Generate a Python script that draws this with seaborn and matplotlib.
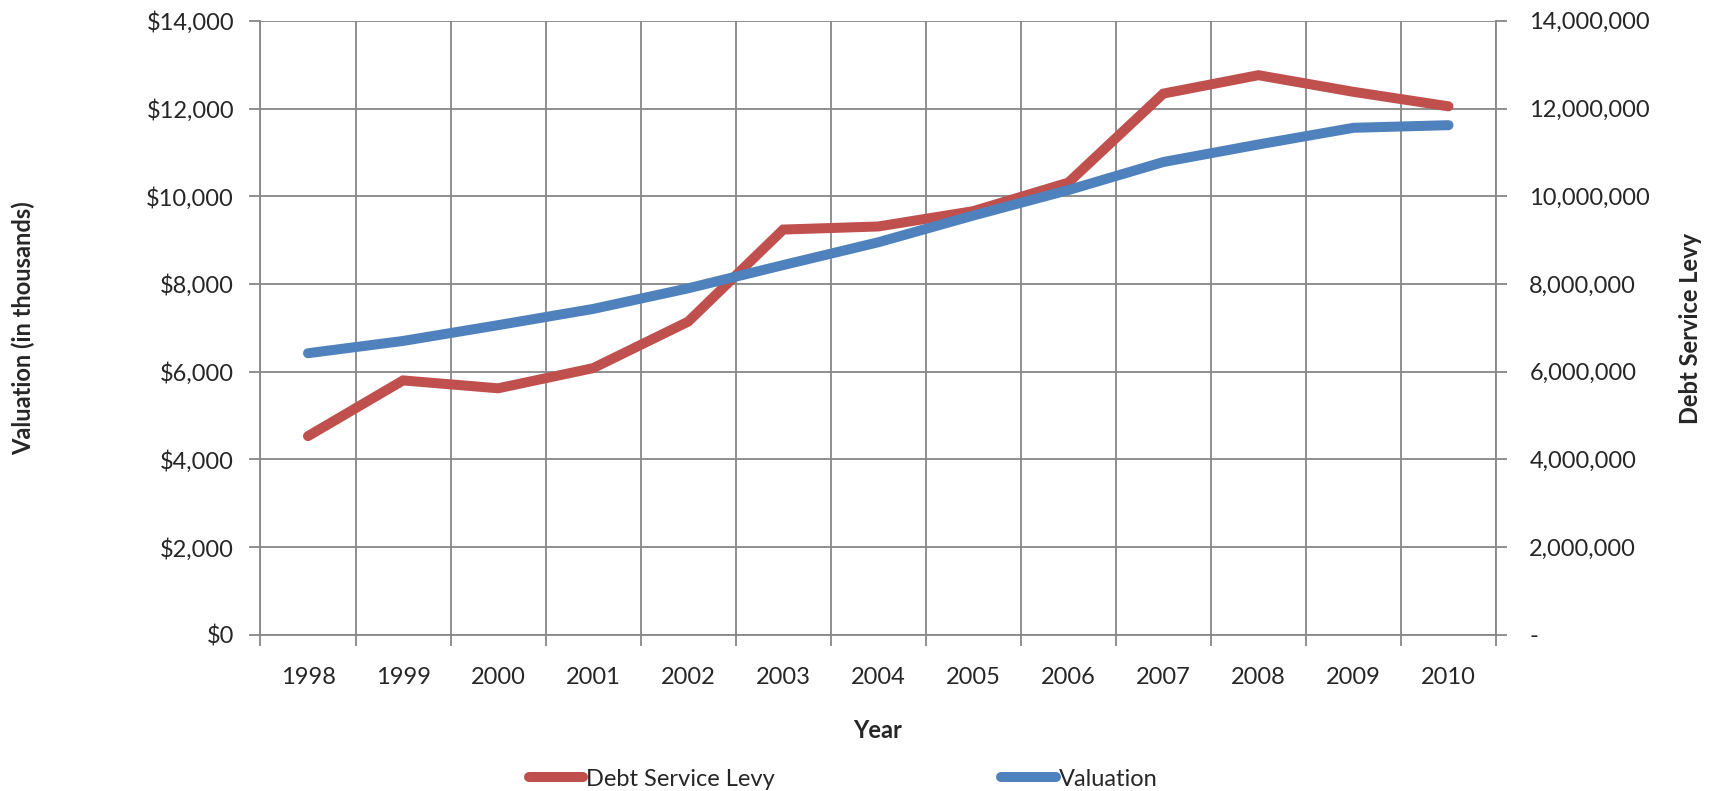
import matplotlib
matplotlib.use("Agg")
import matplotlib.pyplot as plt
from matplotlib.lines import Line2D
from matplotlib.ticker import FixedLocator, FuncFormatter
import seaborn as sns
import pandas as pd

# Data
years = [1998, 1999, 2000, 2001, 2002, 2003, 2004, 2005, 2006, 2007, 2008, 2009, 2010]
valuation_thousands = [6420, 6700, 7060, 7430, 7900, 8430, 8950, 9560, 10140, 10780, 11180, 11560, 11620]
debt_service_levy = [4530000, 5800000, 5620000, 6080000, 7140000, 9240000, 9310000,
                     9660000, 10310000, 12340000, 12760000, 12380000, 12050000]
left_ticks = [0, 2000, 4000, 6000, 8000, 10000, 12000, 14000]
right_ticks = [0, 2000000, 4000000, 6000000, 8000000, 10000000, 12000000, 14000000]

df = pd.DataFrame({"Year": years, "Valuation": valuation_thousands, "Levy": debt_service_levy})

sns.set_style("white")
plt.rcParams["font.family"] = ["Lato", "DejaVu Sans"]

RED = "#C0504D"
BLUE = "#4F81BD"
GRID = "#878787"
FS = 17
LW = 7.2

fig = plt.figure(figsize=(17.16, 7.91), dpi=100)
ax2 = fig.add_axes([0.1518, 0.1975, 0.72, 0.7762])    # right scale: grid + levy line
ax = fig.add_axes(ax2.get_position(), sharex=ax2)      # left scale: valuation line on top
ax.patch.set_visible(False)
ax.set_zorder(ax2.get_zorder() + 1)

# Levy line (right scale)
sns.lineplot(data=df, x="Year", y="Levy", ax=ax2, color=RED, linewidth=LW,
             solid_capstyle="round", solid_joinstyle="miter", zorder=3)
# Valuation line (left scale)
sns.lineplot(data=df, x="Year", y="Valuation", ax=ax, color=BLUE, linewidth=LW,
             solid_capstyle="round", solid_joinstyle="miter", zorder=3)

ax2.set_xlim(years[0] - 0.5, years[-1] + 0.5)
ax2.set_ylim(0, 14000000)
ax.set_ylim(0, 14000)

# Right axis (levy)
ax2.yaxis.tick_right()
ax2.yaxis.set_label_position("right")
ax2.yaxis.set_major_locator(FixedLocator(right_ticks))
ax2.yaxis.set_major_formatter(FuncFormatter(lambda v, p: "-" if v == 0 else f"{int(v):,}"))
ax2.tick_params(axis="y", which="major", direction="out", length=8, width=1.3,
                color=GRID, labelsize=FS, pad=16, right=True, left=False)

# Left axis (valuation)
ax.yaxis.tick_left()
ax.yaxis.set_major_locator(FixedLocator(left_ticks))
ax.yaxis.set_major_formatter(FuncFormatter(lambda v, p: f"${int(v):,}"))
ax.tick_params(axis="y", which="major", direction="out", length=8, width=1.3,
               color=GRID, labelsize=FS, pad=11, left=True, right=False)

# Category axis: labels at year centers, tick marks and grid between categories
ax2.xaxis.set_major_locator(FixedLocator(years))
ax2.xaxis.set_minor_locator(FixedLocator([y - 0.5 for y in years] + [years[-1] + 0.5]))
ax2.tick_params(axis="x", which="major", length=0, labelsize=FS, pad=23, bottom=True)
ax2.tick_params(axis="x", which="minor", direction="out", length=8, width=1.3,
                color=GRID, bottom=True)
ax.tick_params(axis="x", which="both", bottom=False, labelbottom=False)

ax2.grid(True, axis="y", which="major", color=GRID, linewidth=1.3)
ax2.grid(True, axis="x", which="minor", color=GRID, linewidth=1.3)
ax2.set_axisbelow(True)

for a in (ax, ax2):
    a.set_xlabel("")
    a.set_ylabel("")
    for s in a.spines.values():
        s.set_visible(False)
for s in ("left", "bottom", "right"):
    ax2.spines[s].set_visible(True)
    ax2.spines[s].set_color(GRID)
    ax2.spines[s].set_linewidth(1.3)

# Axis titles
fig.text(23 / 1716, 1 - 328 / 791, "Valuation (in thousands)", rotation=90,
         ha="center", va="center", fontsize=FS, fontweight="bold")
fig.text(1691 / 1716, 1 - 328 / 791, "Debt Service Levy", rotation=90,
         ha="center", va="center", fontsize=FS, fontweight="bold")
fig.text(878 / 1716, 1 - 730 / 791, "Year", ha="center", va="center",
         fontsize=FS, fontweight="bold")

# Legend
handles = [Line2D([], [], color=RED, linewidth=LW, solid_capstyle="round"),
           Line2D([], [], color=BLUE, linewidth=LW, solid_capstyle="round")]
fig.legend(handles, ["Debt Service Levy", "Valuation"], loc="center",
           bbox_to_anchor=(843 / 1716, 1 - 779 / 791), ncol=2, frameon=False,
           fontsize=FS, handlelength=2.3, handletextpad=0.12, columnspacing=9.6,
           borderpad=0, borderaxespad=0)

fig.savefig("out.png", dpi=100)
